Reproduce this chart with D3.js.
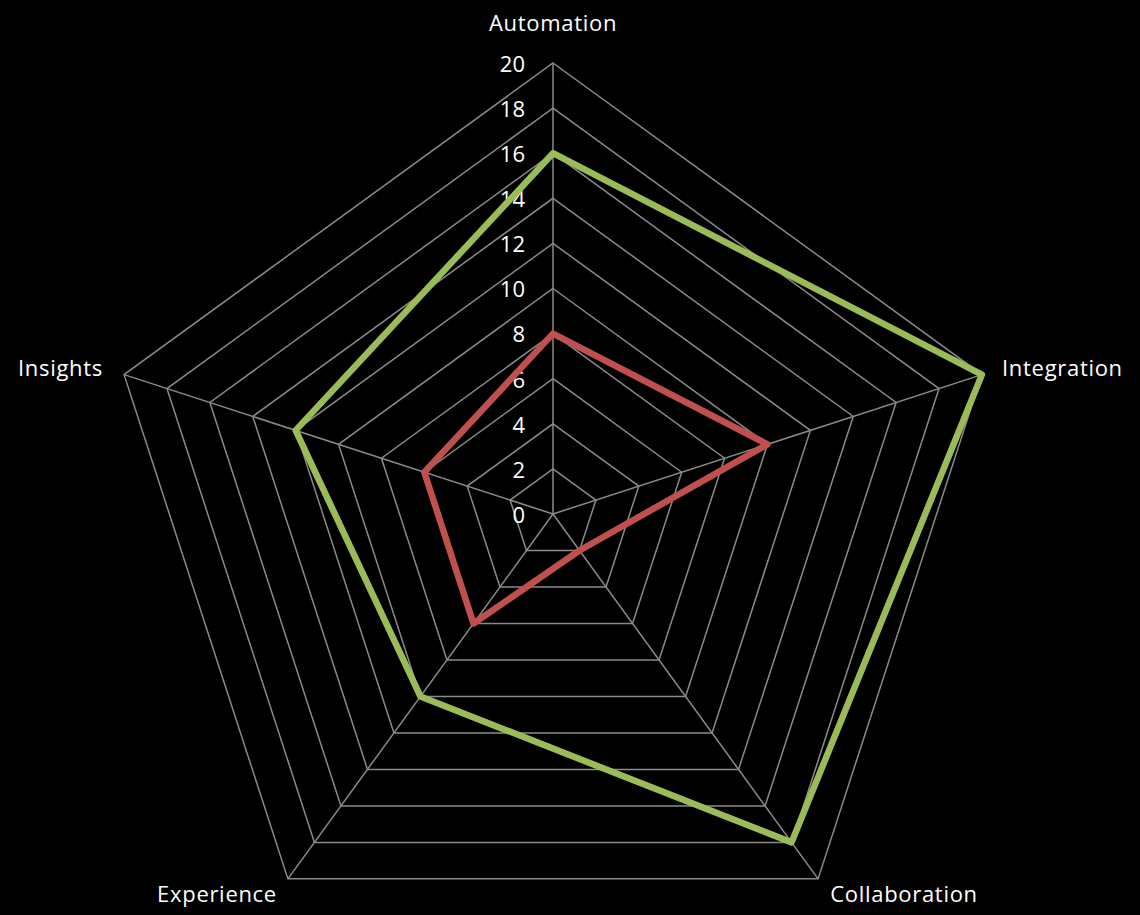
<!DOCTYPE html>
<html><head><meta charset="utf-8">
<script src="https://cdn.jsdelivr.net/npm/d3@7"></script>
<style>html,body{margin:0;padding:0;background:#000;}svg{display:block;}</style>
</head><body>
<svg id="chart" width="1140" height="915"></svg>
<script>
const categories = ["Automation", "Integration", "Collaboration", "Experience", "Insights"];
const seriesGreen = [16, 20, 18, 10, 12];
const seriesRed = [8, 10, 2, 6, 6];
const tickValues = [0, 2, 4, 6, 8, 10, 12, 14, 16, 18, 20];
const seriesColors = ["#9BBB59", "#C0504D"];

const W = 1140, H = 915, cx = 553, cy = 514, R = 451;
const svg = d3.select("#chart");
svg.append("rect").attr("width", W).attr("height", H).attr("fill", "#000");
const font = "'Open Sans', sans-serif";

const r = d3.scaleLinear().domain([0, 20]).range([0, R]);
const n = categories.length;
const ang = i => -Math.PI / 2 + i * 2 * Math.PI / n;
const pt = (i, v) => [cx + r(v) * Math.cos(ang(i)), cy + r(v) * Math.sin(ang(i))];

const g = svg.append("g");
// grid polygons
tickValues.filter(t => t > 0).forEach(t => {
  g.append("polygon")
    .attr("points", categories.map((c, i) => pt(i, t).join(",")).join(" "))
    .attr("fill", "none").attr("stroke", "#8a8a8a").attr("stroke-width", 1.5);
});
// spokes
categories.forEach((c, i) => {
  const [x, y] = pt(i, 20);
  g.append("line").attr("x1", cx).attr("y1", cy).attr("x2", x).attr("y2", y)
    .attr("stroke", "#8a8a8a").attr("stroke-width", 1.5);
});
// tick labels
tickValues.forEach(t => {
  g.append("text").attr("x", 525).attr("y", cy - r(t) + 3)
    .attr("text-anchor", "end").attr("dominant-baseline", "middle")
    .attr("fill", "#fff").attr("font-family", font).attr("font-size", 22).text(t);
});
// series
const line = d3.line().curve(d3.curveLinearClosed);
[seriesGreen, seriesRed].forEach((s, k) => {
  g.append("path").attr("d", line(s.map((v, i) => pt(i, v))))
    .attr("fill", "none").attr("stroke", seriesColors[k]).attr("stroke-width", 6.5)
    .attr("stroke-linejoin", "round");
});
// category labels
const labelPos = [
  {x: 553, y: 25, anchor: "middle"},
  {x: 1002, y: 370, anchor: "start"},
  {x: 904, y: 896, anchor: "middle"},
  {x: 217, y: 896, anchor: "middle"},
  {x: 103, y: 370, anchor: "end"}
];
categories.forEach((c, i) => {
  g.append("text").attr("x", labelPos[i].x).attr("y", labelPos[i].y)
    .attr("text-anchor", labelPos[i].anchor).attr("dominant-baseline", "middle")
    .attr("fill", "#fff").attr("font-family", font).attr("font-size", 22)
    .attr("letter-spacing", 0.7).text(c);
});
</script>
</body></html>
